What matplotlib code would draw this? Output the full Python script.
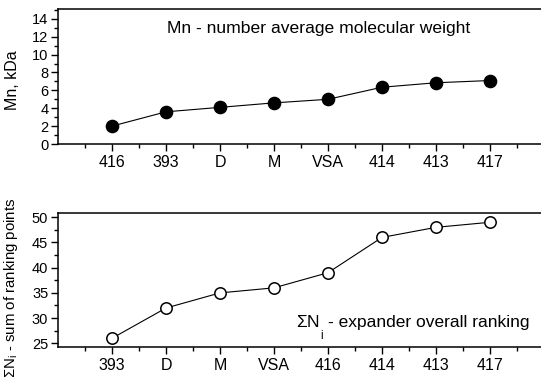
import matplotlib
matplotlib.use("Agg")
import matplotlib.pyplot as plt
from matplotlib.ticker import MultipleLocator, FixedLocator

plt.rcParams['font.family'] = ['Liberation Sans', 'DejaVu Sans']
plt.rcParams['mathtext.fontset'] = 'custom'
plt.rcParams['mathtext.rm'] = 'Liberation Sans'
plt.rcParams['mathtext.it'] = 'Liberation Sans'

# Number-average molecular weight, kDa
mn_labels = ['416', '393', 'D', 'M', 'VSA', '414', '413', '417']
mn_values = [2.0, 3.6, 4.1, 4.6, 5.0, 6.35, 6.85, 7.1]

# Sum of ranking points
rank_labels = ['393', 'D', 'M', 'VSA', '416', '414', '413', '417']
rank_values = [26, 32, 35, 36, 39, 46, 48, 49]

W, H = 541, 377
fig = plt.figure(figsize=(W / 100, H / 100), dpi=100)

left = 58 / W
width = 1.0 - left
ax1 = fig.add_axes([left, 1 - 144 / H, width, (144 - 9) / H])
ax2 = fig.add_axes([left, 1 - 346.7 / H, width, (346.7 - 212.7) / H])

xmax = (W - 58) / 54.0


def style(ax, labels):
    pos = list(range(1, len(labels) + 1))
    ax.set_xlim(0, xmax)
    ax.xaxis.set_major_locator(FixedLocator(pos))
    ax.set_xticklabels(labels)
    ax.xaxis.set_minor_locator(FixedLocator([p - 0.5 for p in pos] + [pos[-1] + 0.5]))
    ax.spines['right'].set_visible(False)
    for s in ('left', 'bottom', 'top'):
        ax.spines[s].set_linewidth(1.1)
    ax.tick_params(axis='x', which='major', direction='out', length=5, width=1.0,
                   labelsize=11.5, pad=3, top=False)
    ax.tick_params(axis='x', which='minor', direction='out', length=3, width=1.0, top=False)
    ax.tick_params(axis='y', which='major', direction='out', length=5, width=1.0,
                   labelsize=10.5, pad=2, right=False)
    ax.tick_params(axis='y', which='minor', direction='out', length=3, width=1.0, right=False)


xs1 = list(range(1, len(mn_values) + 1))
ax1.plot(xs1, mn_values, color='black', lw=0.8, marker='o', ms=8.8,
         mfc='black', mec='black', zorder=3)
style(ax1, mn_labels)
ax1.set_ylim(0, 15.1)
ax1.yaxis.set_minor_locator(MultipleLocator(1))
ax1.set_yticks(range(0, 15, 2))
ax1.set_ylabel('Mn, kDa', fontsize=11.5)
ax1.yaxis.set_label_coords(-0.079, 0.474)
ax1.text(167 / W, 1 - 29 / H, 'Mn - number average molecular weight',
         transform=fig.transFigure, fontsize=12.6, ha='left', va='center')

xs2 = list(range(1, len(rank_values) + 1))
ax2.plot(xs2, rank_values, color='black', lw=0.8, marker='o', ms=8.2,
         mfc='white', mec='black', mew=1.1, zorder=3)
style(ax2, rank_labels)
ax2.set_ylim(24.33, 50.9)
ax2.set_yticks(range(25, 51, 5))
ax2.yaxis.set_minor_locator(MultipleLocator(2.5))
ax2.set_ylabel(r'$\Sigma$N$_{\mathregular{i}}$ - sum of ranking points', fontsize=10.8)
ax2.yaxis.set_label_coords(-0.078, 0.44)

fig.text(296 / W, 1 - 322 / H, r'$\Sigma$N', fontsize=12.5, ha='left', va='center')
fig.text(320 / W, 1 - 336 / H, 'i', fontsize=8.5, ha='left', va='center')
fig.text(328 / W, 1 - 322 / H, '- expander overall ranking', fontsize=12.5,
         ha='left', va='center')

fig.savefig('out.png', dpi=100)
